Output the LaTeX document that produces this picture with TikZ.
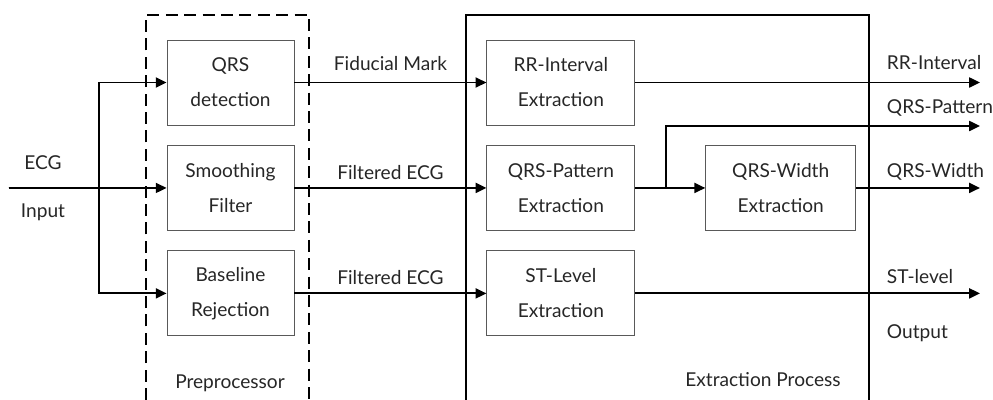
\documentclass[tikz,border=0pt]{standalone}
\usepackage{fontspec}
\setmainfont{Lato}
\usetikzlibrary{positioning,arrows.meta}
\begin{document}
\begin{tikzpicture}[
    x=0.25mm, y=-0.25mm,
    node distance=4.9mm,
    every node/.style={font=\fontsize{13.6}{24.9}\selectfont, text=black!85},
    stage/.style={rectangle, draw=black!65, line width=0.6pt, minimum width=31.75mm, minimum height=21.25mm, align=center, inner sep=0pt},
    wide/.style={stage, minimum width=37mm},
    arrow/.style={-{Triangle[length=2.7mm,width=2.5mm]}, line width=1.3pt},
    lbl/.style={midway, yshift=3.9mm},
    outlbl/.style={anchor=west}
]
\useasboundingbox (0,0) rectangle (993,400);

% Preprocessor blocks
\node[stage] (qrs) at (230.5,82.5) {QRS\\detection};
\node[stage, below=of qrs] (smooth) {Smoothing\\Filter};
\node[stage, below=of smooth] (base) {Baseline\\Rejection};

% Extraction blocks
\node[wide, right=48mm of qrs] (rr) {RR-Interval\\Extraction};
\node[wide, right=48mm of smooth] (pat) {QRS-Pattern\\Extraction};
\node[wide, right=48mm of base] (st) {ST-Level\\Extraction};
\node[wide, minimum width=37.5mm, right=17.5mm of pat] (width) {QRS-Width\\Extraction};

% Frames (open at the bottom)
\draw[line width=1.3pt, dash pattern=on 3mm off 1.6mm] (146,400) |- (309,15) -- (309,400);
\draw[line width=1.3pt] (466,400) |- (869,15) -- (869,400);
\node at (230,383) {Preprocessor};
\node at (763,380) {Extraction Process};

% Input
\coordinate (in) at (9,188);
\coordinate (split) at (99,188);
\draw[arrow] (in) -- (smooth.west);
\draw[arrow] (split) |- (qrs.west);
\draw[arrow] (split) |- (base.west);
\node at (43,163) {ECG};
\node at (43,212) {Input};

% Preprocessor to extraction
\draw[arrow] (qrs) -- node[lbl, yshift=0.9mm] {Fiducial Mark} (rr);
\draw[arrow] (smooth) -- node[lbl] {Filtered ECG} (pat);
\draw[arrow] (base) -- node[lbl] {Filtered ECG} (st);

% Outputs
\coordinate (rrout) at (rr.east -| 980,0);
\coordinate (tap) at (pat.east -| 666,0);
\coordinate (patout) at (980,126);
\coordinate (wout) at (width.east -| 980,0);
\coordinate (stout) at (st.east -| 980,0);
\draw[arrow] (rr.east) -- (rrout);
\draw[arrow] (pat.east) -- (width.west);
\draw[arrow] (tap) |- (patout);
\draw[arrow] (width.east) -- (wout);
\draw[arrow] (st.east) -- (stout);

\node[outlbl] at (882,63) {RR-Interval};
\node[outlbl] at (882,108) {QRS-Pattern};
\node[outlbl] at (882,172) {QRS-Width};
\node[outlbl] at (882,277) {ST-level};
\node[outlbl] at (882,333) {Output};

\end{tikzpicture}
\end{document}
